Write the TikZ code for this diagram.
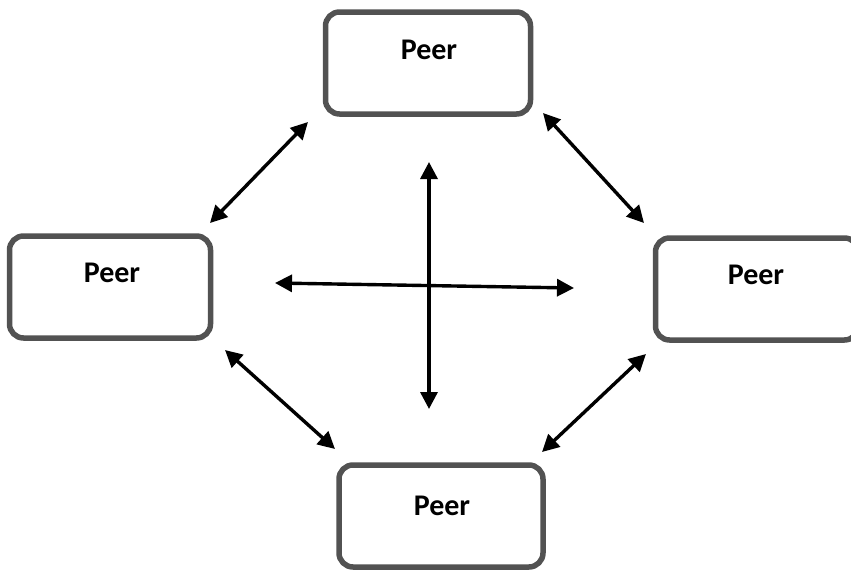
\documentclass[tikz,border=0pt]{standalone}
\usepackage{fontspec}
\setmainfont{Carlito}
\usetikzlibrary{arrows.meta}
\begin{document}
\begin{tikzpicture}[x=1pt,y=-1pt,
  peer/.style={draw=black!68, line width=5.5pt, rounded corners=14pt, fill=white,
    minimum width=#1, minimum height=102pt, inner sep=0pt},
  lbl/.style={font=\fontsize{30}{34}\selectfont\bfseries, inner sep=0pt},
  link/.style={line width=3.4pt, {Triangle[length=17pt,width=17pt]}-{Triangle[length=17pt,width=17pt]}}]
\useasboundingbox (0,0) rectangle (851,573);
\clip (0,0) rectangle (851,573);
\node[peer=205pt] (top) at (428,63) {};
\node[lbl] (ttop) at (429,50) {Peer};
\node[peer=201pt] (left) at (110,287) {};
\node[lbl] (tleft) at (112,273) {Peer};
\node[peer=203pt] (right) at (757,289) {};
\node[lbl] (tright) at (756,275) {Peer};
\node[peer=204pt] (bottom) at (441,516) {};
\node[lbl] (tbottom) at (442,506) {Peer};
\coordinate (a1) at (308,122); \coordinate (a2) at (210,223);
\coordinate (b1) at (543,113); \coordinate (b2) at (644,223);
\coordinate (c1) at (225,350); \coordinate (c2) at (335,449);
\coordinate (d1) at (646,354); \coordinate (d2) at (542,452);
\coordinate (v1) at (429,162); \coordinate (v2) at (429,409);
\coordinate (h1) at (275,283); \coordinate (h2) at (574,288);
\draw[link] (a1) -- (a2);
\draw[link] (b1) -- (b2);
\draw[link] (c1) -- (c2);
\draw[link] (d1) -- (d2);
\draw[link] (v1) -- (v2);
\draw[link] (h1) -- (h2);
\end{tikzpicture}
\end{document}
